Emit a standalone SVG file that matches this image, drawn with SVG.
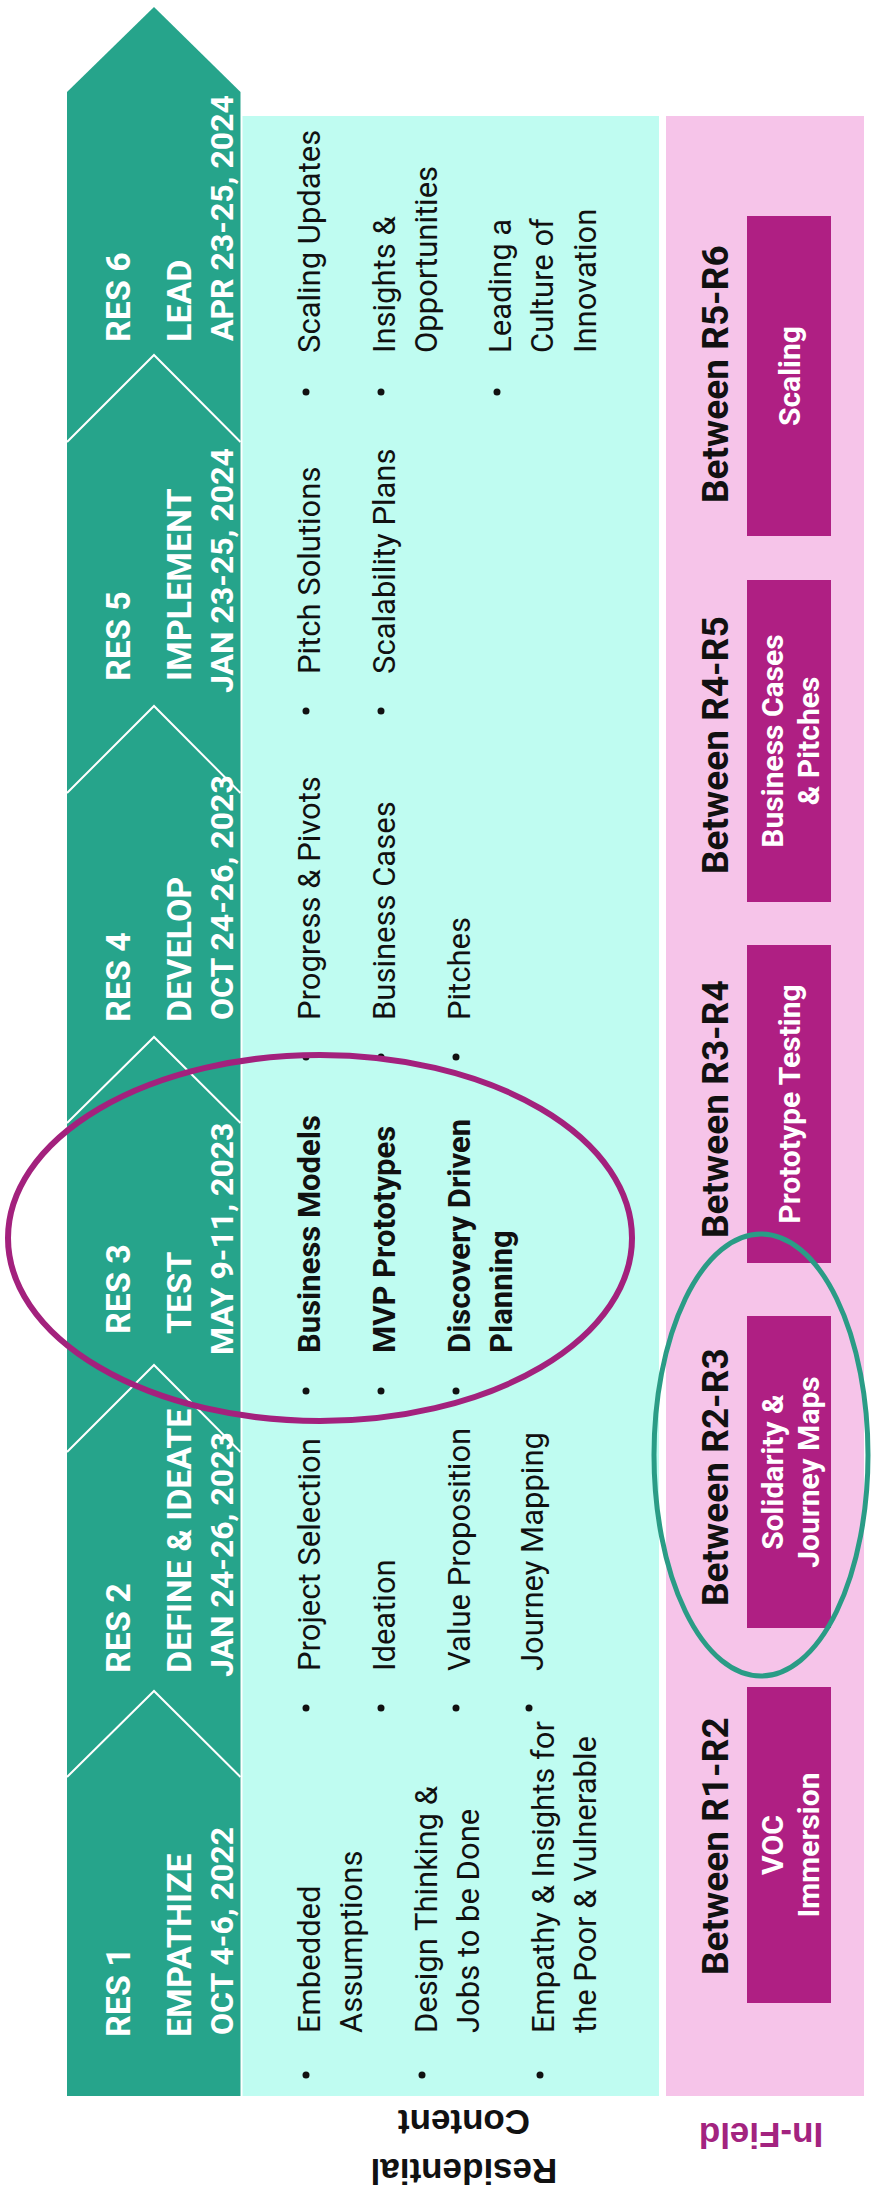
<svg xmlns="http://www.w3.org/2000/svg" width="880" height="2188" viewBox="0 0 880 2188">
<defs>
<style>
.band{fill:#26a48b}
.chev{fill:none;stroke:#ffffff;stroke-width:2}
.cyan{fill:#bffcf1}
.pink{fill:#f6c4e9}
.box{fill:#af1f83}
.tr{font-family:Roboto,'Liberation Sans',sans-serif;font-weight:bold;font-size:34px;fill:#ffffff}
.td{font-family:Roboto,'Liberation Sans',sans-serif;font-weight:bold;font-size:32px;fill:#ffffff}
.tb{font-family:Roboto,'Liberation Sans',sans-serif;font-size:31px;fill:#111111}
.tbb{font-family:Roboto,'Liberation Sans',sans-serif;font-weight:bold;font-size:31px;fill:#111111}
.tw{font-family:Roboto,'Liberation Sans',sans-serif;font-weight:bold;font-size:37px;fill:#111111}
.tx{font-family:Roboto,'Liberation Sans',sans-serif;font-weight:bold;font-size:30px;fill:#ffffff;text-anchor:middle}
.ts{font-family:'Liberation Sans',Arial,sans-serif;font-weight:bold;font-size:35px;text-anchor:middle}
.dot{fill:#111111}
.hl{fill:none}
</style>
</defs>
<rect width="880" height="2188" fill="#ffffff"/>
<g transform="matrix(0,-1,1,0,0,2188)">
  <g id="panels">
    <rect class="cyan" x="92" y="242.5" width="1980" height="416.5"/>
    <rect class="pink" x="92" y="666" width="1980" height="198"/>
  </g>
  <g id="arrow">
    <polygon class="band" points="92,67 2096,67 2181,154 2096,240.5 92,240.5"/>
    <polyline class="chev" points="1746,67 1833,154 1746,240.5"/>
    <polyline class="chev" points="1395,67 1482,154 1395,240.5"/>
    <polyline class="chev" points="1065,67 1151,154 1065,240.5"/>
    <polyline class="chev" points="736,67 823,154 736,240.5"/>
    <polyline class="chev" points="411,67 497,154 411,240.5"/>
  </g>
  <g id="res1">
    <text class="tr" x="151" y="130">RES 1</text>
    <text class="tr" x="151" y="191">EMPATHIZE</text>
    <text class="td" x="153" y="233">OCT 4-6, 2022</text>
  </g>
  <g id="res2">
    <text class="tr" x="515" y="130">RES 2</text>
    <text class="tr" x="515" y="191">DEFINE &amp; IDEATE</text>
    <text class="td" x="511" y="233">JAN 24-26, 2023</text>
  </g>
  <g id="res3">
    <text class="tr" x="854" y="130">RES 3</text>
    <text class="tr" x="854" y="191">TEST</text>
    <text class="td" x="833" y="233">MAY 9-11, 2023</text>
  </g>
  <g id="res4">
    <text class="tr" x="1166" y="130">RES 4</text>
    <text class="tr" x="1166" y="191">DEVELOP</text>
    <text class="td" x="1168" y="233">OCT 24-26, 2023</text>
  </g>
  <g id="res5">
    <text class="tr" x="1507" y="130">RES 5</text>
    <text class="tr" x="1507" y="191">IMPLEMENT</text>
    <text class="td" x="1495" y="233">JAN 23-25, 2024</text>
  </g>
  <g id="res6">
    <text class="tr" x="1846" y="130">RES 6</text>
    <text class="tr" x="1846" y="191">LEAD</text>
    <text class="td" x="1847" y="233">APR 23-25, 2024</text>
  </g>
  <g id="content-res1">
    <circle class="dot" cx="113" cy="306" r="3.5"/>
    <circle class="dot" cx="113" cy="422" r="3.5"/>
    <circle class="dot" cx="113" cy="540" r="3.5"/>
    <text class="tb" x="155" y="320">Embedded</text>
    <text class="tb" x="155" y="362">Assumptions</text>
    <text class="tb" x="155" y="437">Design Thinking &amp;</text>
    <text class="tb" x="155" y="479">Jobs to be Done</text>
    <text class="tb" x="155" y="554">Empathy &amp; Insights for</text>
    <text class="tb" x="155" y="596">the Poor &amp; Vulnerable</text>
  </g>
  <g id="content-res2">
    <circle class="dot" cx="480" cy="306" r="3.5"/>
    <circle class="dot" cx="480" cy="381" r="3.5"/>
    <circle class="dot" cx="480" cy="456" r="3.5"/>
    <circle class="dot" cx="480" cy="529" r="3.5"/>
    <text class="tb" x="517" y="320">Project Selection</text>
    <text class="tb" x="517" y="395">Ideation</text>
    <text class="tb" x="517" y="470">Value Proposition</text>
    <text class="tb" x="517" y="543">Journey Mapping</text>
  </g>
  <g id="content-res3">
    <circle class="dot" cx="797" cy="306" r="3.5"/>
    <circle class="dot" cx="797" cy="381" r="3.5"/>
    <circle class="dot" cx="797" cy="456" r="3.5"/>
    <text class="tbb" x="835" y="320">Business Models</text>
    <text class="tbb" x="835" y="395">MVP Prototypes</text>
    <text class="tbb" x="835" y="470">Discovery Driven</text>
    <text class="tbb" x="835" y="512">Planning</text>
  </g>
  <g id="content-res4">
    <circle class="dot" cx="1131" cy="306" r="3.5"/>
    <circle class="dot" cx="1131" cy="381" r="3.5"/>
    <circle class="dot" cx="1131" cy="456" r="3.5"/>
    <text class="tb" x="1168" y="320">Progress &amp; Pivots</text>
    <text class="tb" x="1168" y="395">Business Cases</text>
    <text class="tb" x="1168" y="470">Pitches</text>
  </g>
  <g id="content-res5">
    <circle class="dot" cx="1477" cy="306" r="3.5"/>
    <circle class="dot" cx="1477" cy="381" r="3.5"/>
    <text class="tb" x="1514" y="320">Pitch Solutions</text>
    <text class="tb" x="1514" y="395">Scalability Plans</text>
  </g>
  <g id="content-res6">
    <circle class="dot" cx="1796" cy="306" r="3.5"/>
    <circle class="dot" cx="1796" cy="381" r="3.5"/>
    <circle class="dot" cx="1796" cy="497" r="3.5"/>
    <text class="tb" x="1835" y="320">Scaling Updates</text>
    <text class="tb" x="1835" y="395">Insights &amp;</text>
    <text class="tb" x="1835" y="437">Opportunities</text>
    <text class="tb" x="1835" y="511">Leading a</text>
    <text class="tb" x="1835" y="553">Culture of</text>
    <text class="tb" x="1835" y="596">Innovation</text>
  </g>
  <g id="infield-r1-r2">
    <text class="tw" x="213" y="728">Between R1-R2</text>
    <rect class="box" x="185" y="747" width="316" height="84"/>
    <text class="tx" x="343" y="783">VOC</text>
    <text class="tx" x="343" y="819">Immersion</text>
  </g>
  <g id="infield-r2-r3">
    <text class="tw" x="582" y="728">Between R2-R3</text>
    <rect class="box" x="560" y="747" width="312" height="84"/>
    <text class="tx" x="716" y="783">Solidarity &amp;</text>
    <text class="tx" x="716" y="819">Journey Maps</text>
  </g>
  <g id="infield-r3-r4">
    <text class="tw" x="950" y="728">Between R3-R4</text>
    <rect class="box" x="925" y="747" width="318" height="84"/>
    <text class="tx" x="1084" y="800">Prototype Testing</text>
  </g>
  <g id="infield-r4-r5">
    <text class="tw" x="1314" y="728">Between R4-R5</text>
    <rect class="box" x="1286" y="747" width="322" height="84"/>
    <text class="tx" x="1447" y="783">Business Cases</text>
    <text class="tx" x="1447" y="819">&amp; Pitches</text>
  </g>
  <g id="infield-r5-r6">
    <text class="tw" x="1685" y="728">Between R5-R6</text>
    <rect class="box" x="1652" y="747" width="320" height="84"/>
    <text class="tx" x="1812" y="800">Scaling</text>
  </g>
</g>
<g id="label-residential">
  <text class="ts" fill="#111111" transform="translate(464,2159) rotate(180)">Residential</text>
  <text class="ts" fill="#111111" transform="translate(464,2110) rotate(180)">Content</text>
</g>
<g id="label-infield">
  <text class="ts" fill="#a3237f" transform="translate(761,2123) rotate(180)">In-Field</text>
</g>
<g id="highlights">
  <ellipse class="hl" cx="320" cy="1238" rx="312" ry="183" stroke="#a3217d" stroke-width="6"/>
  <ellipse class="hl" cx="761" cy="1455" rx="107" ry="221" stroke="#2a9c86" stroke-width="5"/>
</g>
</svg>
